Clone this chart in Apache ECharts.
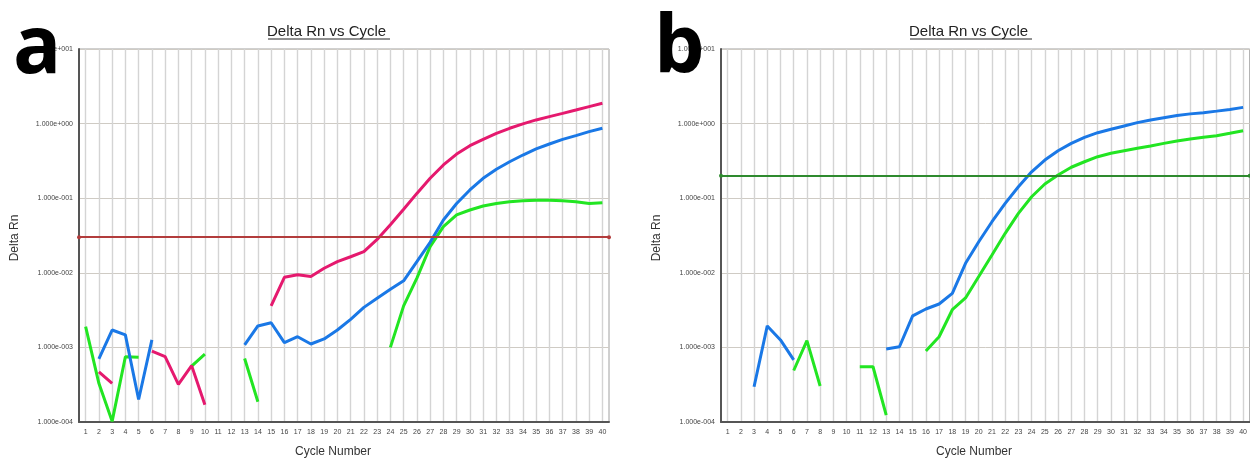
<!DOCTYPE html>
<html>
<head>
<meta charset="utf-8">
<script src="https://cdn.jsdelivr.net/npm/echarts@6/dist/echarts.min.js"></script>
<style>
html,body{margin:0;padding:0;background:#fff;}
#c{width:1250px;height:462px;}
</style>
</head>
<body>
<div id="c"></div>
<script>
const cycles = [1,2,3,4,5,6,7,8,9,10,11,12,13,14,15,16,17,18,19,20,21,22,23,24,25,26,27,28,29,30,31,32,33,34,35,36,37,38,39,40];
const yTicks = [1e-4, 1e-3, 1e-2, 1e-1, 1, 10];

// Panel a
const aPink = [null,4.7e-4,3.3e-4,null,null,8.9e-4,7.5e-4,3.2e-4,5.7e-4,1.7e-4,
  null,null,null,null,3.6e-3,8.7e-3,9.4e-3,8.9e-3,1.15e-2,1.41e-2,
  1.64e-2,1.92e-2,2.8e-2,4.4e-2,7.1e-2,0.116,0.185,0.279,0.39,0.506,
  0.616,0.74,0.865,0.99,1.12,1.24,1.37,1.52,1.69,1.87];
const aBlue = [null,7e-4,1.71e-3,1.47e-3,2.0e-4,1.26e-3,null,null,null,null,
  null,null,1.08e-3,1.94e-3,2.14e-3,1.16e-3,1.39e-3,1.11e-3,1.3e-3,1.71e-3,
  2.38e-3,3.44e-3,4.55e-3,6.0e-3,7.8e-3,0.0141,0.0256,0.051,0.085,0.129,
  0.185,0.244,0.308,0.379,0.457,0.533,0.615,0.689,0.78,0.865];
const aGreen = [1.9e-3,3.3e-4,1.02e-4,7.5e-4,7.4e-4,null,null,null,5.6e-4,8.1e-4,
  null,null,7.1e-4,1.87e-4,null,null,null,null,null,null,
  null,null,null,1.0e-3,3.6e-3,8.5e-3,0.0224,0.0415,0.0596,0.0695,
  0.0786,0.085,0.0897,0.0926,0.094,0.094,0.0926,0.0897,0.085,0.087];
const aThreshold = 0.0256;

// Panel b
const bBlue = [null,null,2.97e-4,1.94e-3,1.26e-3,6.8e-4,null,null,null,null,
  null,null,9.5e-4,1.02e-3,2.64e-3,3.27e-3,3.82e-3,5.3e-3,0.0134,0.0261,
  0.0484,0.0853,0.1425,0.226,0.325,0.433,0.543,0.655,0.755,0.838,
  0.929,1.03,1.12,1.2,1.28,1.35,1.40,1.47,1.55,1.65];
const bGreen = [null,null,null,null,null,4.9e-4,1.23e-3,3.04e-4,null,null,
  5.5e-4,5.5e-4,1.24e-4,null,null,8.95e-4,1.39e-3,3.2e-3,4.6e-3,8.9e-3,
  0.0173,0.0338,0.0627,0.1047,0.155,0.205,0.26,0.308,0.36,0.40,
  0.433,0.466,0.501,0.543,0.585,0.622,0.655,0.689,0.741,0.80];
const bThreshold = 0.2;

const PINK = '#e5196e', BLUE = '#1a78e6', GREEN = '#22e522';

function pairs(vals){ return cycles.map((c,i)=> [c, vals[i]==null ? '-' : vals[i]]); }
function fmt(v){
  const e = Math.round(Math.log10(v));
  return '1.000e' + (e<0?'-':'+') + String(Math.abs(e)).padStart(3,'0');
}

const grids = [
  {left:79, top:49, width:530, height:373, show:true, borderColor:'#a0a0a0', borderWidth:1},
  {left:721, top:49, width:530, height:373, show:true, borderColor:'#a0a0a0', borderWidth:1}
];

function xAx(i){
  return {
    type:'value', gridIndex:i, min:0.5, max:40.5,
    axisLine:{show:true, onZero:false, lineStyle:{color:'#555', width:2}},
    axisTick:{show:false, customValues:cycles},
    axisLabel:{customValues:cycles, fontSize:7, color:'#444', margin:7, fontFamily:'Liberation Sans'},
    splitLine:{show:true, lineStyle:{color:'#d4d4d4', width:1.4}}
  };
}
function yAx(i){
  return {
    type:'log', logBase:10, gridIndex:i, min:yTicks[0], max:yTicks[yTicks.length-1], interval:1,
    axisLine:{show:true, lineStyle:{color:'#555', width:2}},
    axisTick:{show:false},
    axisLabel:{fontSize:7, color:'#444', margin:6, fontFamily:'Liberation Sans', formatter:fmt},
    splitLine:{show:true, lineStyle:{color:'#cfcbc4', width:1}},
    minorSplitLine:{show:false}
  };
}

function line(name, vals, color, gi){
  return {
    name, type:'line', xAxisIndex:gi, yAxisIndex:gi, data:pairs(vals),
    showSymbol:false, connectNulls:false, silent:true,
    lineStyle:{color, width:3}, itemStyle:{color}, z:3
  };
}
function thresh(val, color, gi){
  return {
    type:'line', xAxisIndex:gi, yAxisIndex:gi, data:[], z:5, silent:true,
    markLine:{
      silent:true, symbol:['circle','circle'], symbolSize:4, animation:false,
      label:{show:false},
      lineStyle:{color, width:2, type:'solid'},
      data:[{yAxis:val}]
    }
  };
}

function title(cx){
  return [
    {type:'text', left:cx-62, top:24, style:{text:'Delta Rn vs Cycle', font:'15px "Liberation Sans"', fill:'#222'}},
    {type:'line', shape:{x1:cx-61, y1:39, x2:cx+61, y2:39}, style:{stroke:'#222', lineWidth:1}}
  ];
}
function axisNames(cx, ly){
  return [
    {type:'text', left:cx-34, top:446, style:{text:'Cycle Number', font:'12px "Liberation Sans"', fill:'#333'}},
    {type:'text', x:ly, y:238, rotation:Math.PI/2, style:{text:'Delta Rn', font:'12px "Liberation Sans"', fill:'#333', align:'center', verticalAlign:'middle'}}
  ];
}

const chart = echarts.init(document.getElementById('c'), null, {renderer:'canvas'});
chart.setOption({
  animation:false,
  backgroundColor:'#fff',
  grid:grids,
  xAxis:[xAx(0), xAx(1)],
  yAxis:[yAx(0), yAx(1)],
  series:[
    line('a-green', aGreen, GREEN, 0),
    line('a-blue', aBlue, BLUE, 0),
    line('a-pink', aPink, PINK, 0),
    thresh(aThreshold, '#b23c3c', 0),
    line('b-green', bGreen, GREEN, 1),
    line('b-blue', bBlue, BLUE, 1),
    thresh(bThreshold, '#2e8a2e', 1)
  ],
  graphic:[
    {type:'text', left:13, top:10, z:10, style:{text:'a', font:'bold 80px "Open Sans"', fill:'#000'}},
    {type:'text', left:654, top:9, z:10, style:{text:'b', font:'bold 80px "Open Sans"', fill:'#000'}},
    ...title(329), ...title(971),
    ...axisNames(329, 15), ...axisNames(970, 657)
  ]
});
</script>
</body>
</html>
